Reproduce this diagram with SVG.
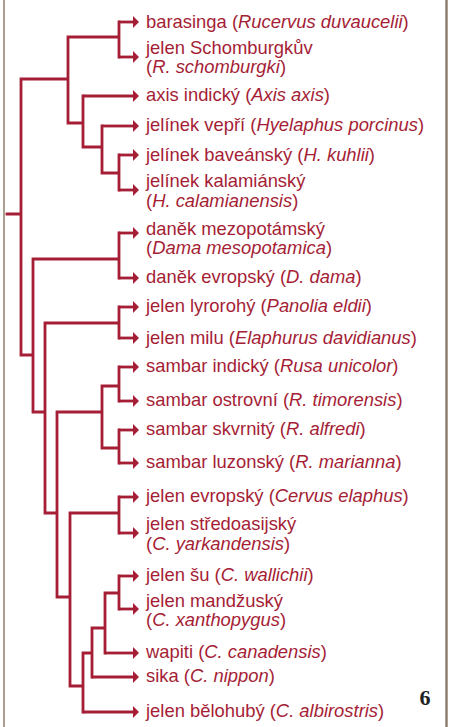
<svg xmlns="http://www.w3.org/2000/svg" width="449" height="727" viewBox="0 0 449 727">
<style>
.e{stroke:#a51e36;stroke-width:2.8;fill:none;stroke-linecap:square}
.l{stroke:#a51e36;stroke-width:2.8;fill:none;marker-end:url(#ah)}
text{font-family:"Liberation Sans",Arial,Helvetica,sans-serif;font-size:18.4px;fill:#a51e36}
.i{font-style:italic}
</style>
<defs>
<marker id="ah" markerUnits="userSpaceOnUse" markerWidth="6" markerHeight="13" viewBox="0 0 6 13" refX="0" refY="6.5" orient="auto">
<path d="M0,0.5 L6,6.5 L0,12.5 z" fill="#a51e36"/>
</marker>
</defs>
<rect width="449" height="727" fill="#fff"/>
<line x1="4" y1="0" x2="4" y2="727" stroke="#aa9e90" stroke-width="2"/>
<line x1="446.5" y1="0" x2="446.5" y2="727" stroke="#8a7b6a" stroke-width="2.4"/>
<g id="connectors">
<path class="e" d="M7,214H21 M21,79V355 M21,79H68 M21,355H33
M68,37V123 M68,37H119 M68,123H83 M119,22V57
M83,96V147 M83,147H102 M102,126V173 M102,173H119 M119,155V190
M33,259V412 M33,259H119 M119,233V278 M33,412H45
M45,323V513 M45,323H119 M119,307V338 M45,513H57
M57,412V597 M57,412H102 M102,386V448 M102,386H119 M102,448H119 M119,367V401 M119,430V463
M57,597H70 M70,513V686 M70,513H119 M119,497V533 M70,686H83
M83,653V712 M83,653H92 M92,628V677 M92,628H105 M105,593V653 M105,593H119 M119,576V609"/>
<path class="l" d="M119,22H133"/>
<path class="l" d="M119,57H133"/>
<path class="l" d="M83,96H133"/>
<path class="l" d="M102,126H133"/>
<path class="l" d="M119,155H133"/>
<path class="l" d="M119,190H133"/>
<path class="l" d="M119,233H133"/>
<path class="l" d="M119,278H133"/>
<path class="l" d="M119,307H133"/>
<path class="l" d="M119,338H133"/>
<path class="l" d="M119,367H133"/>
<path class="l" d="M119,401H133"/>
<path class="l" d="M119,430H133"/>
<path class="l" d="M119,463H133"/>
<path class="l" d="M119,497H133"/>
<path class="l" d="M119,533H133"/>
<path class="l" d="M119,576H133"/>
<path class="l" d="M119,609H133"/>
<path class="l" d="M105,653H133"/>
<path class="l" d="M92,677H133"/>
<path class="l" d="M83,712H133"/>
</g>
<g id="n-barasinga"><text x="146" y="27.5">barasinga (<tspan class="i">Rucervus duvaucelii</tspan>)</text></g>
<g id="n-schomburgk"><text x="146" y="53.5">jelen Schomburgkův</text><text x="146" y="73">(<tspan class="i">R. schomburgki</tspan>)</text></g>
<g id="n-axis"><text x="146" y="100.5">axis indický (<tspan class="i">Axis axis</tspan>)</text></g>
<g id="n-porcinus"><text x="146" y="130.5">jelínek vepří (<tspan class="i">Hyelaphus porcinus</tspan>)</text></g>
<g id="n-kuhlii"><text x="146" y="160.5">jelínek baveánský (<tspan class="i">H. kuhlii</tspan>)</text></g>
<g id="n-calamianensis"><text x="146" y="187">jelínek kalamiánský</text><text x="146" y="206.5">(<tspan class="i">H. calamianensis</tspan>)</text></g>
<g id="n-mesopotamica"><text x="146" y="235">daněk mezopotámský</text><text x="146" y="254">(<tspan class="i">Dama mesopotamica</tspan>)</text></g>
<g id="n-dama"><text x="146" y="283">daněk evropský (<tspan class="i">D. dama</tspan>)</text></g>
<g id="n-eldii"><text x="146" y="312">jelen lyrorohý (<tspan class="i">Panolia eldii</tspan>)</text></g>
<g id="n-davidianus"><text x="146" y="343.5">jelen milu (<tspan class="i">Elaphurus davidianus</tspan>)</text></g>
<g id="n-unicolor"><text x="146" y="372">sambar indický (<tspan class="i">Rusa unicolor</tspan>)</text></g>
<g id="n-timorensis"><text x="146" y="406">sambar ostrovní (<tspan class="i">R. timorensis</tspan>)</text></g>
<g id="n-alfredi"><text x="146" y="435">sambar skvrnitý (<tspan class="i">R. alfredi</tspan>)</text></g>
<g id="n-marianna"><text x="146" y="468">sambar luzonský (<tspan class="i">R. marianna</tspan>)</text></g>
<g id="n-elaphus"><text x="146" y="502">jelen evropský (<tspan class="i">Cervus elaphus</tspan>)</text></g>
<g id="n-yarkandensis"><text x="146" y="530">jelen středoasijský</text><text x="146" y="550">(<tspan class="i">C. yarkandensis</tspan>)</text></g>
<g id="n-wallichii"><text x="146" y="580.5">jelen šu (<tspan class="i">C. wallichii</tspan>)</text></g>
<g id="n-xanthopygus"><text x="146" y="607">jelen mandžuský</text><text x="146" y="626">(<tspan class="i">C. xanthopygus</tspan>)</text></g>
<g id="n-canadensis"><text x="146" y="658">wapiti (<tspan class="i">C. canadensis</tspan>)</text></g>
<g id="n-nippon"><text x="146" y="682">sika (<tspan class="i">C. nippon</tspan>)</text></g>
<g id="n-albirostris"><text x="146" y="716.5">jelen bělohubý (<tspan class="i">C. albirostris</tspan>)</text></g>
<text x="419.5" y="705" style="font-family:'Liberation Serif','Times New Roman',serif;font-size:22px;font-weight:bold;fill:#222">6</text>
</svg>
